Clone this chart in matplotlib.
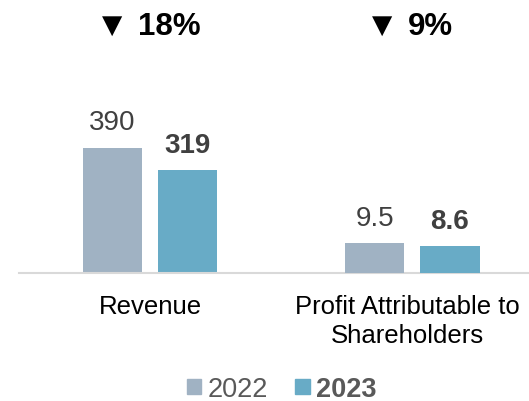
import matplotlib.pyplot as plt
from matplotlib.patches import Patch

categories = ['Revenue', 'Profit Attributable to\nShareholders']
years = ['2022', '2023']
revenue = [390, 319]
profit = [9.5, 8.6]
value_labels_rev = ['390', '319']
value_labels_profit = ['9.5', '8.6']
changes = ['18%', '9%']

c22 = '#A0B2C3'
c23 = '#68ABC6'
font = 'Liberation Sans'

fig = plt.figure(figsize=(5.29, 4.02), dpi=100)
ax = fig.add_axes([19 / 529, 0.319, 1 - 19 / 529, 0.532])
ax2 = ax.twinx()

w = 0.225
off = 0.143
x = [0, 1]

# revenue on the left scale, profit on its own scale
ax.bar([x[0] - off], [revenue[0]], w, color=c22)
ax.bar([x[0] + off], [revenue[1]], w, color=c23)
ax2.bar([x[1] - off], [profit[0]], w, color=c22)
ax2.bar([x[1] + off], [profit[1]], w, color=c23)

ax.set_ylim(0, 667)
ax2.set_ylim(0, 68.8)
ax.set_xlim(-0.499, 1.444)

lab_kw = dict(ha='center', va='bottom', fontsize=20, family=font, color='#404040',
              textcoords='offset points', xytext=(0, 9))
ax.annotate(value_labels_rev[0], (x[0] - off, revenue[0]), **lab_kw)
ax.annotate(value_labels_rev[1], (x[0] + off, revenue[1]), fontweight='bold', **lab_kw)
ax2.annotate(value_labels_profit[0], (x[1] - off, profit[0]), **lab_kw)
ax2.annotate(value_labels_profit[1], (x[1] + off, profit[1]), fontweight='bold', **lab_kw)

for a in (ax, ax2):
    for s in ['top', 'right', 'left']:
        a.spines[s].set_visible(False)
    a.set_yticks([])
ax.spines['bottom'].set_color('#D9D9D9')
ax.spines['bottom'].set_linewidth(1.5)
ax2.spines['bottom'].set_visible(False)

ax.set_xticks([x[0], x[1] - 0.02])
ax.set_xticklabels(categories, fontsize=18.5, family=font, color='black', linespacing=1.3)
ax.tick_params(axis='x', length=0, pad=15)

# change headers
tri_x = [112 / 529, 382 / 529]
pct_x = [169 / 529, 430 / 529]
for tx, px, ch in zip(tri_x, pct_x, changes):
    fig.text(tx, 1 - 26 / 402, '▼', ha='center', va='center', fontsize=19,
             family='DejaVu Sans', color='black')
    fig.text(px, 1 - 27 / 402, ch, ha='center', va='center', fontsize=22.5,
             family=font, fontweight='bold', color='black')

handles = [Patch(color=c22), Patch(color=c23)]
leg = fig.legend(handles, years, loc='center', bbox_to_anchor=(282 / 529, 1 - 390 / 402),
                 ncol=2, frameon=False, handlelength=0.52, handleheight=0.52,
                 handletextpad=0.25, columnspacing=1.0,
                 prop={'family': font, 'size': 19.5})
for t in leg.get_texts():
    t.set_color('#595959')
leg.get_texts()[1].set_fontweight('bold')

fig.savefig('out.png', dpi=100)
